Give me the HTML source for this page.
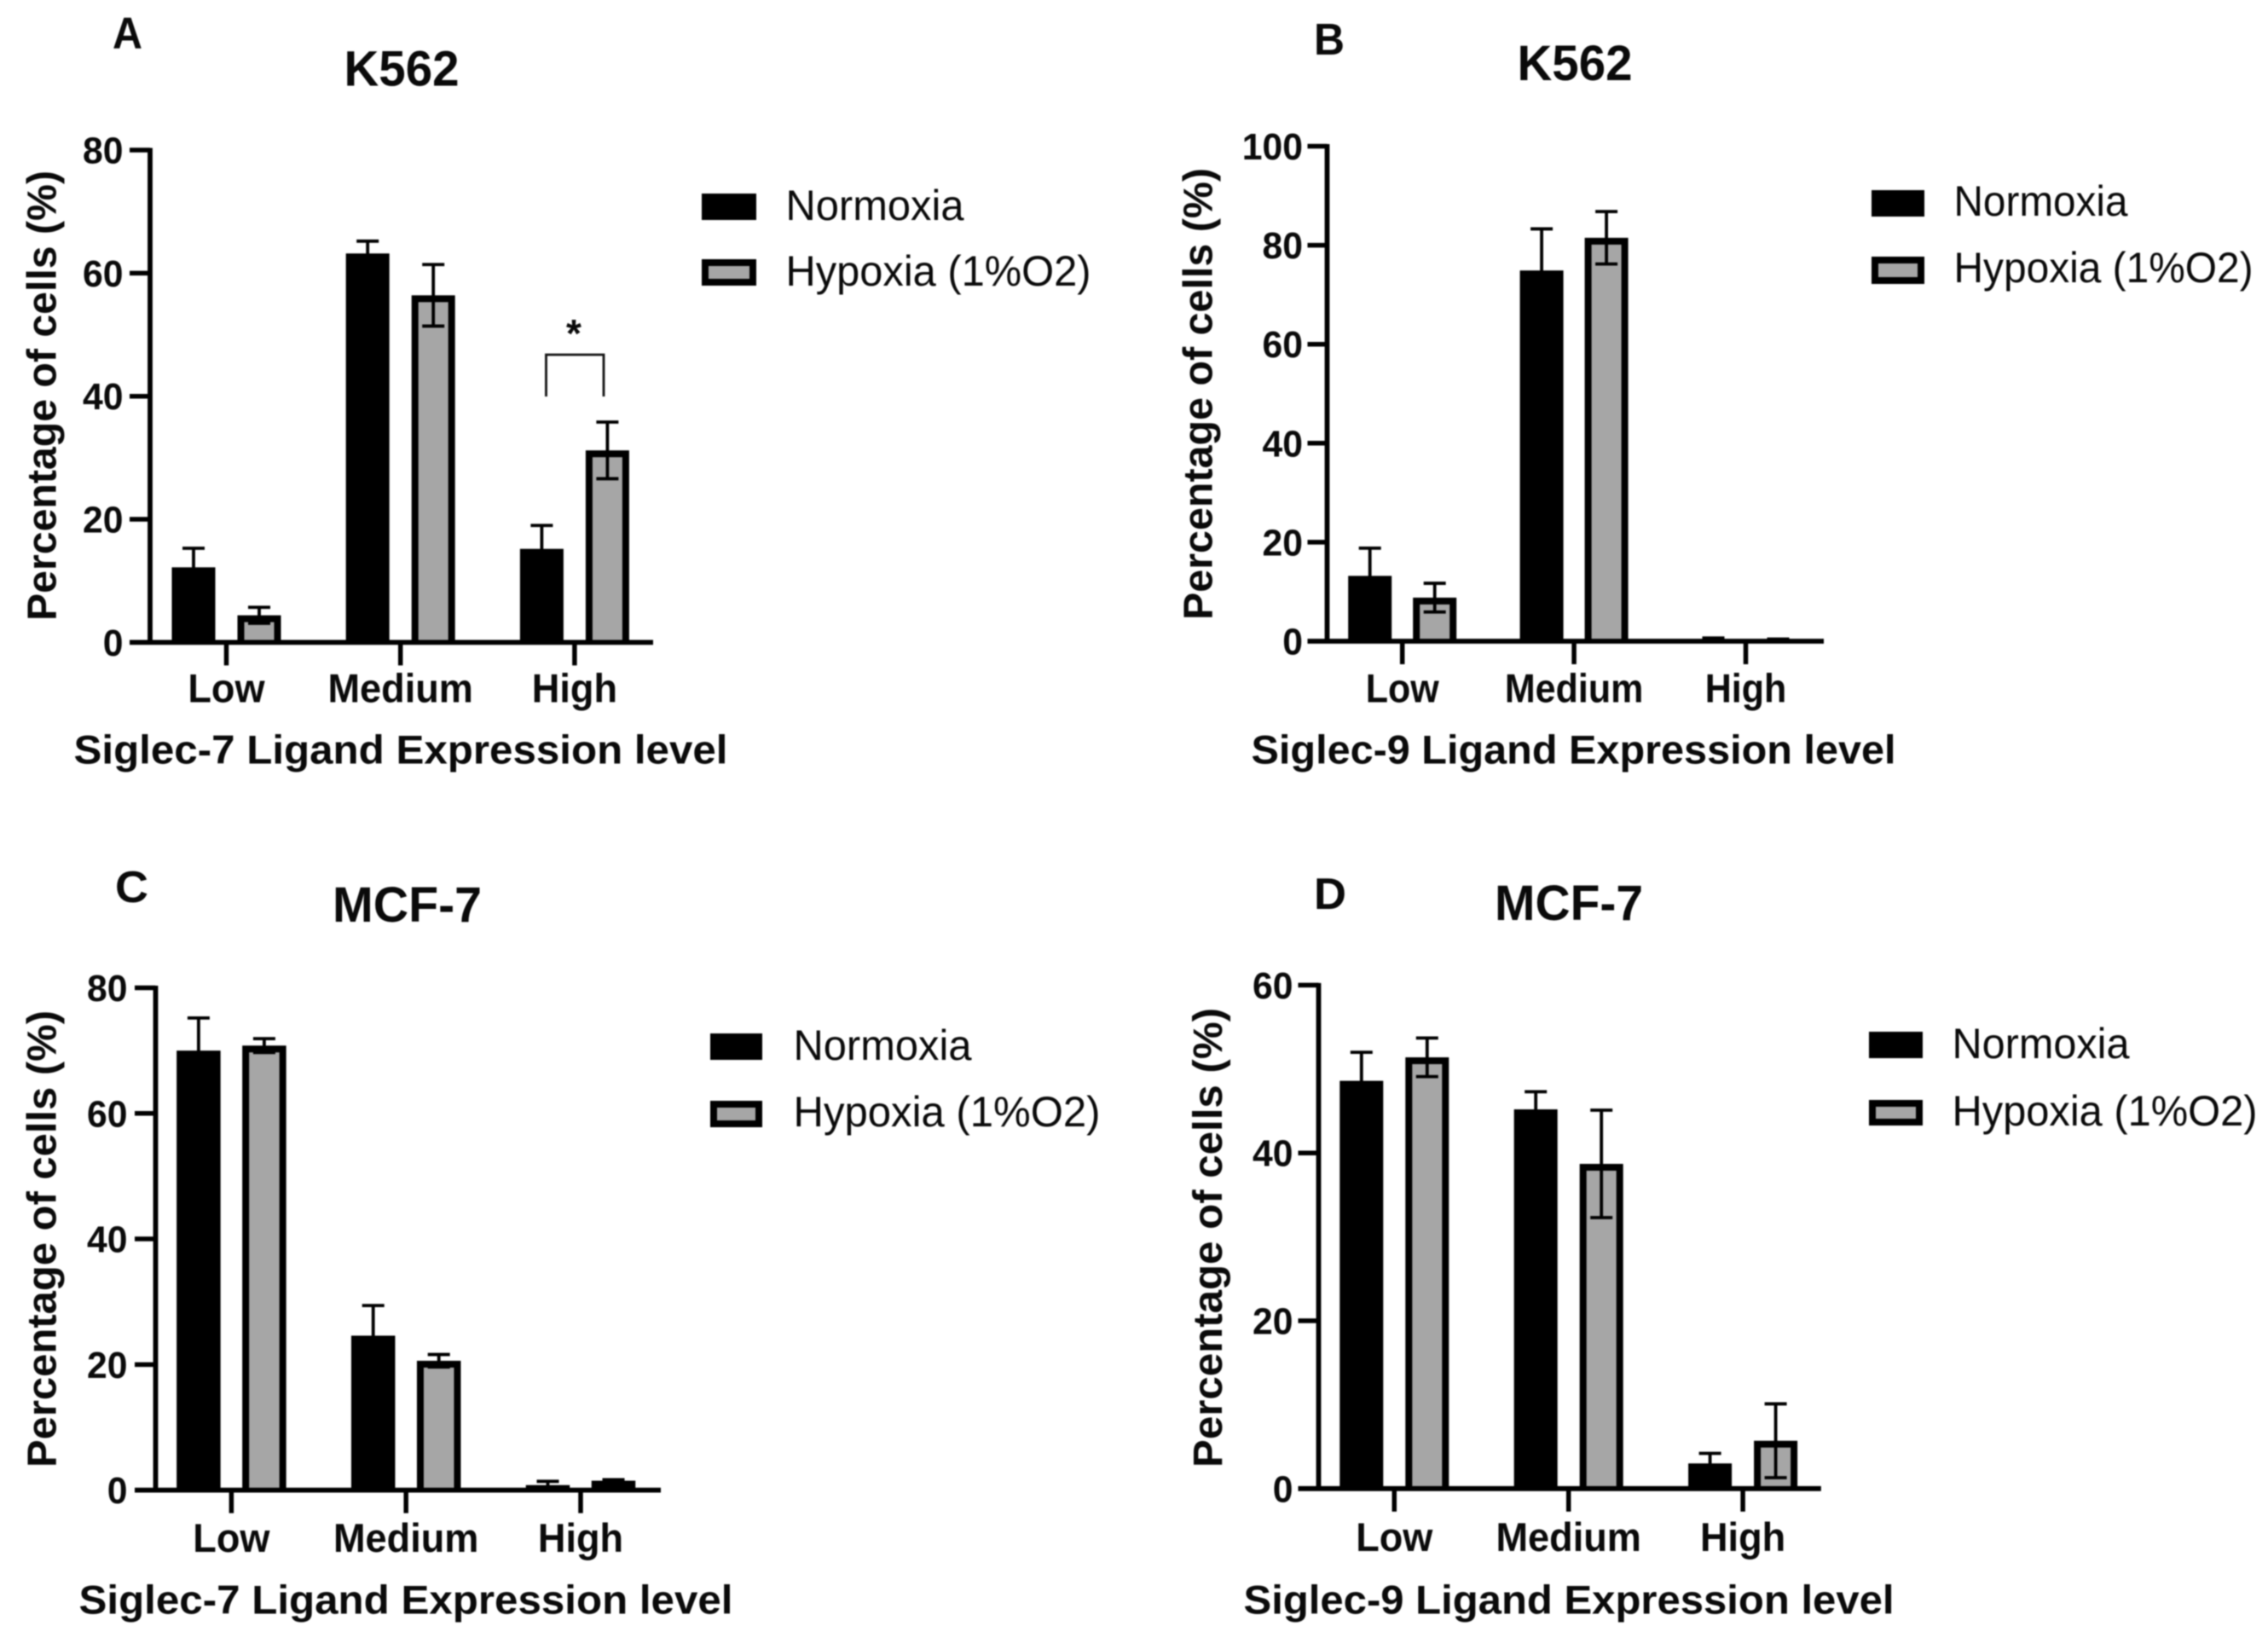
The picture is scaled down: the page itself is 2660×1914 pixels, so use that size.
<!DOCTYPE html>
<html lang="en">
<head>
<meta charset="utf-8">
<title>Siglec ligand expression under normoxia and hypoxia</title>
<style>
  html, body { margin: 0; padding: 0; background: #fff; }
  #figure { display: block; width: 2660px; height: 1914px; filter: blur(0.7px); }
  text { font-family: "Liberation Sans", Arial, sans-serif; fill: #0a0a0a; }
  .b { font-weight: 700; }
  .lg { font-size: 50px; }
  .ttl { font-size: 58px; font-weight: 700; }
  .ltr { font-size: 52px; font-weight: 700; }
  .xt { font-size: 47px; font-weight: 700; }
  .yt { font-size: 48px; font-weight: 700; }
</style>
</head>
<body>
<svg id="figure" xmlns="http://www.w3.org/2000/svg" width="2660" height="1914" viewBox="0 0 2660 1914">
  <rect width="2660" height="1914" fill="#fff"/>

  <g id="panel-a">
    <text class="ltr" x="132" y="56.5" textLength="35" lengthAdjust="spacingAndGlyphs">A</text>
    <text class="ttl" x="471" y="100.5" text-anchor="middle" textLength="135" lengthAdjust="spacingAndGlyphs">K562</text>
    <text class="yt" transform="translate(65.5,728) rotate(-90)" textLength="528" lengthAdjust="spacingAndGlyphs">Percentage of cells (%)</text>
    <text class="xt" x="86.5" y="895.5" textLength="767" lengthAdjust="spacingAndGlyphs">Siglec-7 Ligand Expression level</text>
    <g>
      <rect x="823" y="227" width="64" height="31" fill="#000"/>
      <text class="lg" x="921.5" y="258" textLength="209" lengthAdjust="spacingAndGlyphs">Normoxia</text>
      <rect x="827" y="308" width="56" height="23" fill="#a6a6a6" stroke="#000" stroke-width="8"/>
      <text class="lg" x="921.5" y="335" textLength="358" lengthAdjust="spacingAndGlyphs">Hypoxia (1%O2)</text>
    </g>
    <path d="M640.5 465V416H708V465" fill="none" stroke="#111" stroke-width="2.8"/>
    <text class="b" x="673" y="407" font-size="46" text-anchor="middle">*</text>
  </g>

  <g id="panel-b">
    <text class="ltr" x="1541" y="64" textLength="36" lengthAdjust="spacingAndGlyphs">B</text>
    <text class="ttl" x="1847" y="94" text-anchor="middle" textLength="135" lengthAdjust="spacingAndGlyphs">K562</text>
    <text class="yt" transform="translate(1421.5,727) rotate(-90)" textLength="530" lengthAdjust="spacingAndGlyphs">Percentage of cells (%)</text>
    <text class="xt" x="1467.5" y="895.5" textLength="756" lengthAdjust="spacingAndGlyphs">Siglec-9 Ligand Expression level</text>
    <g>
      <rect x="2195" y="223" width="62" height="31" fill="#000"/>
      <text class="lg" x="2291.5" y="253" textLength="204" lengthAdjust="spacingAndGlyphs">Normoxia</text>
      <rect x="2199" y="305" width="54" height="24" fill="#a6a6a6" stroke="#000" stroke-width="8"/>
      <text class="lg" x="2291.5" y="331" textLength="351" lengthAdjust="spacingAndGlyphs">Hypoxia (1%O2)</text>
    </g>
  </g>

  <g id="panel-c">
    <text class="ltr" x="135" y="1058" textLength="39" lengthAdjust="spacingAndGlyphs">C</text>
    <text class="ttl" x="477.5" y="1081" text-anchor="middle" textLength="175" lengthAdjust="spacingAndGlyphs">MCF-7</text>
    <text class="yt" transform="translate(65.5,1721) rotate(-90)" textLength="536" lengthAdjust="spacingAndGlyphs">Percentage of cells (%)</text>
    <text class="xt" x="92.5" y="1892.5" textLength="767" lengthAdjust="spacingAndGlyphs">Siglec-7 Ligand Expression level</text>
    <g>
      <rect x="833" y="1212" width="61" height="31" fill="#000"/>
      <text class="lg" x="930.5" y="1243" textLength="209" lengthAdjust="spacingAndGlyphs">Normoxia</text>
      <rect x="837" y="1295" width="53" height="23" fill="#a6a6a6" stroke="#000" stroke-width="8"/>
      <text class="lg" x="930.5" y="1321" textLength="360" lengthAdjust="spacingAndGlyphs">Hypoxia (1%O2)</text>
    </g>
  </g>

  <g id="panel-d">
    <text class="ltr" x="1541" y="1066" textLength="38" lengthAdjust="spacingAndGlyphs">D</text>
    <text class="ttl" x="1840" y="1079" text-anchor="middle" textLength="174" lengthAdjust="spacingAndGlyphs">MCF-7</text>
    <text class="yt" transform="translate(1433,1721) rotate(-90)" textLength="539" lengthAdjust="spacingAndGlyphs">Percentage of cells (%)</text>
    <text class="xt" x="1458.5" y="1892.5" textLength="763" lengthAdjust="spacingAndGlyphs">Siglec-9 Ligand Expression level</text>
    <g>
      <rect x="2192" y="1210" width="63" height="31" fill="#000"/>
      <text class="lg" x="2289.5" y="1241" textLength="208" lengthAdjust="spacingAndGlyphs">Normoxia</text>
      <rect x="2196" y="1294" width="55" height="22" fill="#a6a6a6" stroke="#000" stroke-width="8"/>
      <text class="lg" x="2289.5" y="1320" textLength="358" lengthAdjust="spacingAndGlyphs">Hypoxia (1%O2)</text>
    </g>
  </g>
</svg>

<script>
// ---- Chart data ----
const categories = ['Low', 'Medium', 'High'];

const ticksA = [0, 20, 40, 60, 80];
const normoxiaA = [12.2, 63.2, 15.2];
const normoxiaErrA = [3.1, 2.0, 3.8];
const hypoxiaA = [4.4, 56.4, 31.2];
const hypoxiaErrA = [1.3, 5.0, 4.6];

const ticksB = [0, 20, 40, 60, 80, 100];
const normoxiaB = [13.2, 74.9, 0.4];
const normoxiaErrB = [5.6, 8.4, 0.25];
const hypoxiaB = [8.8, 81.5, 0.3];
const hypoxiaErrB = [2.9, 5.3, 0.13];

const ticksC = [0, 20, 40, 60, 80];
const normoxiaC = [70.0, 24.6, 0.8];
const normoxiaErrC = [5.2, 4.8, 0.6];
const hypoxiaC = [70.8, 20.6, 1.5];
const hypoxiaErrC = [1.1, 1.0, 0.15];

const ticksD = [0, 20, 40, 60];
const normoxiaD = [48.6, 45.2, 3.0];
const normoxiaErrD = [3.4, 2.1, 1.2];
const hypoxiaD = [51.4, 38.7, 5.7];
const hypoxiaErrD = [2.3, 6.4, 4.4];

// ---- Drawing ----
const SVG_NS = 'http://www.w3.org/2000/svg';

function make(parent, tag, attrs, text) {
  const el = document.createElementNS(SVG_NS, tag);
  for (const k in attrs) el.setAttribute(k, attrs[k]);
  if (text !== undefined) el.textContent = text;
  parent.appendChild(el);
  return el;
}

function squeeze(el, factor) {
  el.setAttribute('textLength', el.getComputedTextLength() * factor);
  el.setAttribute('lengthAdjust', 'spacingAndGlyphs');
}

function drawPanel(id, frame, ticks, normoxia, normoxiaErr, hypoxia, hypoxiaErr) {
  const root = document.getElementById(id);
  const yMax = ticks[ticks.length - 1];
  const yScale = v => frame.y0 - (v / yMax) * (frame.y0 - frame.yTop);
  const xScale = i => frame.tick0 + i * frame.step;

  const bars = make(root, 'g', {});
  
  

  function bar(i, value, err, offset, isHypoxia) {
    const cx = xScale(i) + offset;
    const top = yScale(value);
    const w = frame.barW;
    const outer = make(bars, 'rect', {
      x: cx - w / 2, y: top, width: w, height: Math.max(frame.y0 - top, 0), fill: '#000'
    });
    
    
    const b = 8;
    if (isHypoxia && frame.y0 - top > b + 6) {
      const inner = make(bars, 'rect', {
        x: cx - w / 2 + b, y: top + b, width: w - 2 * b, height: frame.y0 - top - b, fill: '#a6a6a6'
      });
      
      
    }
    if (err > 0) {
      const yHi = yScale(value + err);
      const yLo = yScale(Math.max(value - err, 0));
      const d = 'M' + cx + ' ' + yLo + 'V' + yHi +
        'M' + (cx - 13) + ' ' + yHi + 'H' + (cx + 13) +
        'M' + (cx - 13) + ' ' + yLo + 'H' + (cx + 13);
      const eb = make(bars, 'path', { d: d, fill: 'none', stroke: '#000', 'stroke-width': 3.8 });
      
      
    }
  }

  categories.forEach((c, i) => {
    bar(i, normoxia[i], normoxiaErr[i], -frame.offset, false);
    bar(i, hypoxia[i], hypoxiaErr[i], frame.offset, true);
  });

  const yAxis = make(root, 'line', {
    x1: frame.x0, x2: frame.x0, y1: frame.yTop - 2.5, y2: frame.y0, stroke: '#000', 'stroke-width': 5.8
  });
  
  

  const xAxis = make(root, 'line', {
    x1: frame.xStart, x2: frame.xEnd, y1: frame.y0, y2: frame.y0, stroke: '#000', 'stroke-width': 5.8
  });
  
  

  ticks.forEach(t => {
    const y = yScale(t);
    if (t !== 0) {
      const tk = make(root, 'line', {
        x1: frame.xStart, x2: frame.x0, y1: y, y2: y, stroke: '#000', 'stroke-width': 5.5
      });
      
      
    }
    const lb = make(root, 'text', {
      x: frame.labelRight, y: y + 15.5, 'text-anchor': 'end', 'font-size': 44, 'font-weight': 700
    }, String(t));
    
    
    squeeze(lb, 0.97);
  });

  categories.forEach((c, i) => {
    const x = xScale(i);
    const tk = make(root, 'line', {
      x1: x, x2: x, y1: frame.y0, y2: frame.y0 + 27, stroke: '#000', 'stroke-width': 5.5
    });
    
    
    const lb = make(root, 'text', {
      x: x, y: frame.catBase, 'text-anchor': 'middle', 'font-size': 47, 'font-weight': 700
    }, c);
    
    
    squeeze(lb, frame.catSqueeze);
  });
}

drawPanel('panel-a',
  { x0: 176, y0: 753.4, yTop: 176, xStart: 152, xEnd: 766, tick0: 265.5, step: 204.2, offset: 38.5, barW: 51, labelRight: 144.5, catBase: 823.5, catSqueeze: 0.96 },
  ticksA, normoxiaA, normoxiaErrA, hypoxiaA, hypoxiaErrA);

drawPanel('panel-b',
  { x0: 1556.5, y0: 752, yTop: 171.5, xStart: 1533.5, xEnd: 2139, tick0: 1644.7, step: 201.4, offset: 38, barW: 51, labelRight: 1528, catBase: 823.5, catSqueeze: 0.915 },
  ticksB, normoxiaB, normoxiaErrB, hypoxiaB, hypoxiaErrB);

drawPanel('panel-c',
  { x0: 182.5, y0: 1747.6, yTop: 1158.5, xStart: 158, xEnd: 775, tick0: 271.4, step: 204.8, offset: 38.5, barW: 51.5, labelRight: 149.5, catBase: 1820, catSqueeze: 0.96 },
  ticksC, normoxiaC, normoxiaErrC, hypoxiaC, hypoxiaErrC);

drawPanel('panel-d',
  { x0: 1546.5, y0: 1745.8, yTop: 1155.4, xStart: 1522.5, xEnd: 2135.8, tick0: 1635.3, step: 204.4, offset: 38.5, barW: 51, labelRight: 1516.5, catBase: 1819, catSqueeze: 0.96 },
  ticksD, normoxiaD, normoxiaErrD, hypoxiaD, hypoxiaErrD);
</script>
</body>
</html>
